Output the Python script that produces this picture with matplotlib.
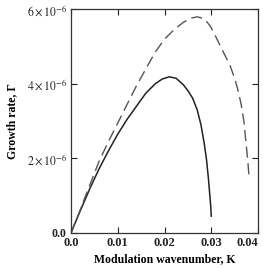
import matplotlib
matplotlib.use("Agg")
import matplotlib.pyplot as plt
from matplotlib.ticker import FixedLocator, FixedFormatter

# curves (K, growth rate in units of 1e-6)
k_solid = [0, 0.002, 0.004, 0.006, 0.008, 0.010, 0.012, 0.014, 0.016,
           0.018, 0.0195, 0.021, 0.0225, 0.024, 0.025, 0.026, 0.027,
           0.0278, 0.0285, 0.029, 0.0294, 0.0297, 0.0299, 0.0300]
g_solid = [0, 0.6, 1.18, 1.72, 2.2, 2.65, 3.05, 3.4, 3.75,
           4.0, 4.13, 4.19, 4.15, 3.98, 3.82, 3.62, 3.3,
           2.9, 2.4, 1.95, 1.45, 1.0, 0.7, 0.45]

k_dash = [0, 0.002, 0.004, 0.006, 0.008, 0.010, 0.012, 0.014, 0.016,
          0.018, 0.020, 0.022, 0.024, 0.0255, 0.027, 0.0285, 0.0298,
          0.031, 0.032, 0.033, 0.034, 0.035, 0.0357, 0.0364, 0.037,
          0.0374, 0.0378, 0.0381]
g_dash = [0, 0.63, 1.28, 1.92, 2.45, 2.95, 3.45, 3.95, 4.4,
          4.85, 5.2, 5.45, 5.65, 5.76, 5.8, 5.75, 5.55,
          5.26, 5.0, 4.75, 4.5, 4.15, 3.84, 3.45, 2.98,
          2.45, 1.96, 1.48]

x_ticks = [0, 0.01, 0.02, 0.03, 0.04]
x_labels = ["0.0", "0.01", "0.02", "0.03", "0.04"]
y_ticks = [0, 2e-6, 4e-6, 6e-6]
y_labels = ["0.0", r"$2\times10^{-6}$", r"$4\times10^{-6}$", r"$6\times10^{-6}$"]

plt.rcParams["font.family"] = "Liberation Serif"
plt.rcParams["mathtext.fontset"] = "stix"

fig = plt.figure(figsize=(2.63, 2.68), dpi=100)
ax = fig.add_axes([0.270, 0.131, 0.711, 0.834])

ax.plot(k_solid, [g * 1e-6 for g in g_solid], color="#222222", lw=1.1)
ax.plot(k_dash, [g * 1e-6 for g in g_dash], color="#555555", lw=1.0,
        dashes=(8, 4))

ax.set_xlim(0, 0.04)
ax.set_ylim(0, 6e-6)

ax.xaxis.set_major_locator(FixedLocator(x_ticks))
ax.xaxis.set_major_formatter(FixedFormatter(x_labels))
ax.yaxis.set_major_locator(FixedLocator(y_ticks))
ax.yaxis.set_major_formatter(FixedFormatter(y_labels))

ax.tick_params(direction="in", length=4, width=0.8, top=True, right=True,
               pad=3, colors="#222222")
ax.tick_params(axis="y", labelsize=8.5)
ax.tick_params(axis="x", labelsize=9)
for lab in ax.get_xticklabels():
    lab.set_fontweight("bold")
# last x label sits against the figure edge in the reference
ax.get_xticklabels()[-1].set_horizontalalignment("right")
ax.get_xticklabels()[-1].set_x(0.0405)
ax.get_yticklabels()[0].set_fontweight("bold")

for sp in ax.spines.values():
    sp.set_linewidth(0.9)
    sp.set_color("#333333")

ax.set_xlabel("Modulation wavenumber, K", fontsize=8.5, fontweight="bold",
              labelpad=3)
ax.set_ylabel("Growth rate, Γ", fontsize=8.5, fontweight="bold", labelpad=6)

fig.savefig("out.png", dpi=100)
